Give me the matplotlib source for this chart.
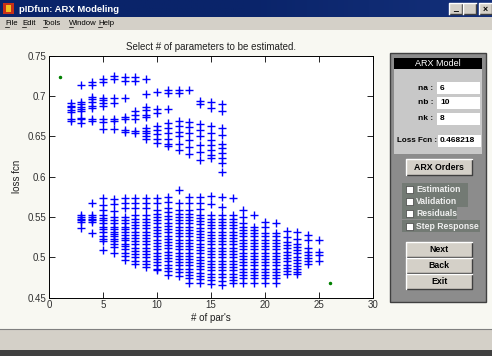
import matplotlib
matplotlib.use("Agg")
import matplotlib.pyplot as plt
import numpy as np
from matplotlib.patches import Rectangle

plt.rcParams['font.family'] = ['Liberation Sans', 'DejaVu Sans']

# ---- data ----
upper_n = [2, 3, 4, 5, 6, 7, 8, 9, 10, 11, 12, 13, 14, 15, 16]
upper_loss = [
    [0.691, 0.688, 0.686, 0.683, 0.680, 0.672, 0.669],
    [0.714, 0.693, 0.690, 0.687, 0.684, 0.681, 0.673, 0.671, 0.666],
    [0.718, 0.714, 0.699, 0.696, 0.692, 0.688, 0.685, 0.672, 0.669],
    [0.721, 0.717, 0.698, 0.695, 0.691, 0.688, 0.671, 0.668, 0.659],
    [0.725, 0.721, 0.697, 0.691, 0.672, 0.669, 0.659],
    [0.723, 0.719, 0.697, 0.674, 0.671, 0.658, 0.655],
    [0.723, 0.719, 0.681, 0.677, 0.672, 0.657, 0.654],
    [0.721, 0.703, 0.687, 0.683, 0.676, 0.674, 0.660, 0.657, 0.654, 0.650, 0.647],
    [0.705, 0.684, 0.679, 0.663, 0.658, 0.653, 0.647, 0.642],
    [0.708, 0.704, 0.684, 0.666, 0.660, 0.654, 0.647, 0.641, 0.638],
    [0.708, 0.704, 0.669, 0.663, 0.656, 0.650, 0.641, 0.633],
    [0.708, 0.668, 0.661, 0.654, 0.646, 0.637, 0.628],
    [0.694, 0.690, 0.665, 0.658, 0.650, 0.639, 0.631, 0.621],
    [0.693, 0.685, 0.663, 0.654, 0.646, 0.639, 0.633, 0.627, 0.623],
    [0.690, 0.682, 0.660, 0.652, 0.641, 0.635, 0.629, 0.623, 0.617, 0.606],
]

lower_n = [3, 4, 5, 6, 7, 8, 9, 10, 11, 12, 13, 14, 15, 16, 17, 18, 19, 20, 21, 22, 23, 24, 25]
lower_loss = [
    [0.552, 0.550, 0.548, 0.546, 0.544, 0.537],
    [0.567, 0.552, 0.550, 0.548, 0.546, 0.544, 0.530],
    [0.573, 0.565, 0.559, 0.553, 0.549, 0.546, 0.542, 0.538, 0.535, 0.531, 0.527, 0.523, 0.520, 0.509],
    [0.572, 0.566, 0.558, 0.550, 0.546, 0.542, 0.538, 0.535, 0.532, 0.529, 0.526, 0.523, 0.520, 0.516,
     0.513, 0.505],
    [0.573, 0.567, 0.561, 0.550, 0.546, 0.542, 0.538, 0.535, 0.531, 0.528, 0.524, 0.521, 0.517, 0.514,
     0.510, 0.506, 0.502, 0.497],
    [0.573, 0.567, 0.561, 0.552, 0.548, 0.544, 0.540, 0.536, 0.532, 0.528, 0.524, 0.520, 0.516, 0.512,
     0.508, 0.504, 0.500, 0.496, 0.492],
    [0.573, 0.567, 0.561, 0.552, 0.548, 0.544, 0.540, 0.536, 0.532, 0.528, 0.524, 0.520, 0.516, 0.512,
     0.508, 0.504, 0.500, 0.496, 0.492, 0.488],
    [0.573, 0.567, 0.559, 0.554, 0.550, 0.546, 0.542, 0.538, 0.534, 0.530, 0.526, 0.522, 0.518, 0.514,
     0.510, 0.506, 0.502, 0.498, 0.494, 0.490, 0.486, 0.484],
    [0.575, 0.569, 0.561, 0.556, 0.551, 0.547, 0.543, 0.539, 0.535, 0.531, 0.527, 0.523, 0.519, 0.515,
     0.511, 0.507, 0.503, 0.499, 0.495, 0.491, 0.487, 0.483, 0.478],
    [0.583, 0.567, 0.559, 0.554, 0.550, 0.546, 0.542, 0.538, 0.534, 0.530, 0.526, 0.522, 0.518, 0.514,
     0.510, 0.506, 0.502, 0.498, 0.494, 0.490, 0.486, 0.482, 0.477],
    [0.575, 0.567, 0.559, 0.554, 0.550, 0.546, 0.542, 0.538, 0.534, 0.530, 0.526, 0.522, 0.518, 0.514,
     0.510, 0.506, 0.502, 0.498, 0.494, 0.490, 0.486, 0.482, 0.478, 0.474, 0.468],
    [0.575, 0.567, 0.560, 0.553, 0.549, 0.545, 0.541, 0.537, 0.533, 0.529, 0.525, 0.521, 0.517, 0.513,
     0.509, 0.505, 0.501, 0.497, 0.493, 0.489, 0.485, 0.481, 0.477, 0.473, 0.468],
    [0.576, 0.566, 0.552, 0.548, 0.544, 0.540, 0.536, 0.532, 0.528, 0.524, 0.520, 0.516, 0.512, 0.508,
     0.504, 0.500, 0.496, 0.492, 0.488, 0.484, 0.480, 0.476, 0.472, 0.467],
    [0.575, 0.563, 0.552, 0.548, 0.544, 0.540, 0.536, 0.532, 0.528, 0.524, 0.520, 0.516, 0.512, 0.508,
     0.504, 0.500, 0.496, 0.492, 0.488, 0.484, 0.480, 0.476, 0.471, 0.466],
    [0.573, 0.552, 0.548, 0.544, 0.540, 0.536, 0.532, 0.528, 0.524, 0.520, 0.516, 0.512, 0.508, 0.504,
     0.500, 0.496, 0.492, 0.488, 0.484, 0.480, 0.476, 0.472, 0.468],
    [0.559, 0.550, 0.542, 0.538, 0.534, 0.530, 0.526, 0.522, 0.518, 0.514, 0.510, 0.506, 0.502, 0.498,
     0.494, 0.490, 0.486, 0.482, 0.478, 0.474, 0.468],
    [0.552, 0.538, 0.534, 0.530, 0.526, 0.522, 0.518, 0.514, 0.510, 0.506, 0.502, 0.498, 0.494, 0.490,
     0.486, 0.482, 0.478, 0.474, 0.468],
    [0.544, 0.538, 0.530, 0.526, 0.522, 0.518, 0.514, 0.510, 0.506, 0.502, 0.498, 0.494, 0.490, 0.486,
     0.482, 0.478, 0.474, 0.468],
    [0.543, 0.530, 0.526, 0.522, 0.518, 0.514, 0.510, 0.506, 0.502, 0.498, 0.494, 0.490, 0.486, 0.482,
     0.478, 0.474, 0.468],
    [0.533, 0.525, 0.519, 0.515, 0.511, 0.507, 0.503, 0.499, 0.495, 0.491, 0.487, 0.483, 0.480],
    [0.532, 0.523, 0.517, 0.513, 0.509, 0.505, 0.501, 0.497, 0.493, 0.489, 0.485, 0.482, 0.479],
    [0.528, 0.521, 0.511, 0.507, 0.503, 0.499, 0.495, 0.492],
    [0.521, 0.507, 0.503, 0.495],
]

# best fits (green dots)
best_n = [1, 26]
best_loss = [0.724, 0.468]

orders = [("na :", "6"), ("nb :", "10"), ("nk :", "8")]
loss_value = "0.468218"
check_labels = ["Estimation", "Validation", "Residuals", "Step Response"]
menu_items = ["File", "Edit", "Tools", "Window", "Help"]

W, H = 492, 356
fig = plt.figure(figsize=(W / 100, H / 100), dpi=100)

# background axes in pixel coords (y down) for the window chrome
bg = fig.add_axes([0, 0, 1, 1], zorder=0)
bg.set_xlim(0, W)
bg.set_ylim(H, 0)
bg.axis('off')

def rect(x0, y0, x1, y1, fc, ec='none', lw=0.8, z=1):
    bg.add_patch(Rectangle((x0, y0), x1 - x0, y1 - y0, fc=fc, ec=ec, lw=lw, zorder=z))

def button(x0, y0, x1, y1, label, fs=6.3):
    rect(x0, y0, x1, y1, '#d4d0c8', z=2)
    bg.plot([x0, x1, x1], [y1, y1, y0], color='#404040', lw=1, zorder=3)
    bg.plot([x0, x0, x1], [y1, y0, y0], color='white', lw=1, zorder=3)
    bg.text((x0 + x1) / 2, (y0 + y1) / 2 + 0.5, label, ha='center', va='center',
            fontsize=fs, fontweight='bold', color='black', zorder=4)

# figure area
rect(0, 0, W, H, '#f8f8f2', z=0)

# title bar
grad = np.linspace(0, 1, 256).reshape(1, -1)
cmap = matplotlib.colors.LinearSegmentedColormap.from_list('tb', ['#0a246a', '#0a246a', '#14307a'])
bg.imshow(grad, cmap=cmap, aspect='auto', extent=(0, W, 17, 0), zorder=1)
bg.set_xlim(0, W)
bg.set_ylim(H, 0)
rect(3, 3, 14, 14, '#c83018', z=2)
rect(6, 5, 11, 12, '#f0c020', z=3)
bg.text(19, 9, "pIDfun: ARX Modeling", color='white', fontsize=6.8, fontweight='bold',
        va='center', ha='left', zorder=3)
for i, g in enumerate(['_', '', '×']):
    bx = 449 + i * 14 + (2 if i == 2 else 0)
    button(bx, 3, bx + 13, 14, g)

# menu bar
rect(0, 17, W, 30, '#d4d0c8', z=1)
menu_x = [5, 22, 43, 69, 98]
for mx, m in zip(menu_x, menu_items):
    bg.text(mx, 23.5, m, fontsize=5.6, va='center', ha='left', zorder=3)
    bg.plot([mx, mx + 4], [27, 27], color='black', lw=0.5, zorder=3)

# status bar
rect(0, 329, W, 350, '#d4d0c8', z=1)
bg.plot([0, W], [329, 329], color='#808080', lw=0.8, zorder=2)
rect(0, 350, W, H, '#404040', z=1)

# right panel
rect(390, 53, 486, 302, '#8c8c8c', ec='#404040', lw=1, z=1)
rect(394, 58, 482, 69, 'black', z=2)
bg.text(438, 63.5, "ARX Model", color='white', fontsize=6.5, ha='center', va='center', zorder=3)
rect(394, 69, 482, 154, '#c8c8c8', z=2)
box_y = [82, 97, 113]
for (lab, val), by in zip(orders, box_y):
    rect(437, by, 480, by + 12, 'white', z=3)
    bg.text(433, by + 6, lab, fontsize=6, fontweight='bold', ha='right', va='center', zorder=4)
    bg.text(440, by + 6, val, fontsize=6, fontweight='bold', ha='left', va='center', zorder=4)
rect(438, 135, 481, 147, 'white', z=3)
bg.text(397, 141, "Loss Fcn :", fontsize=5.8, fontweight='bold', ha='left', va='center', zorder=4)
bg.text(440, 141, loss_value, fontsize=6, fontweight='bold', ha='left', va='center', zorder=4)

button(406, 159, 472, 175, "ARX Orders")

check_right = [468, 468, 457, 480]
check_y = [189, 201, 213, 226]
for lab, cr, cy in zip(check_labels, check_right, check_y):
    rect(402, cy - 6, cr, cy + 6, '#737a74', z=2)
    rect(406, cy - 3.5, 413, cy + 3.5, 'white', ec='#404040', lw=0.5, z=3)
    bg.text(416, cy + 0.5, lab, fontsize=6.2, fontweight='bold', color='#f0f0f0',
            ha='left', va='center', zorder=4)

button(406, 242, 472, 257, "Next")
button(406, 258, 472, 273, "Back")
button(406, 274, 472, 289, "Exit")

# ---- the scatter plot ----
ax = fig.add_axes([49 / W, 1 - 297.7 / H, 324 / W, 242 / H], zorder=2)
ax.set_facecolor('white')

ux, uy = [], []
for n, vals in zip(upper_n, upper_loss):
    ux += [n] * len(vals)
    uy += vals
lx, ly = [], []
for n, vals in zip(lower_n, lower_loss):
    lx += [n] * len(vals)
    ly += vals

ax.plot(ux, uy, '+', color='#0000ff', ms=5.2, mew=1.0)
ax.plot(lx, ly, '+', color='#0000ff', ms=5.2, mew=1.0)
ax.plot(best_n, best_loss, '.', color='#008000', ms=3)

ax.set_xlim(0, 30)
ax.set_ylim(0.45, 0.75)
ax.set_xticks([0, 5, 10, 15, 20, 25, 30])
ax.set_yticks([0.45, 0.5, 0.55, 0.6, 0.65, 0.7, 0.75])
ax.set_yticklabels(['0.45', '0.5', '0.55', '0.6', '0.65', '0.7', '0.75'])
ax.tick_params(direction='in', top=True, right=True, length=4, width=0.6,
               labelsize=7, labelcolor='#303030', pad=2)
for s in ax.spines.values():
    s.set_linewidth(0.7)
ax.set_title("Select # of parameters to be estimated.", fontsize=7, pad=4, color='#202020')
ax.set_xlabel("# of par's", fontsize=7, labelpad=2, color='#202020')
ax.set_ylabel("loss fcn", fontsize=7, labelpad=4, color='#202020')

fig.savefig('out.png', dpi=100)
